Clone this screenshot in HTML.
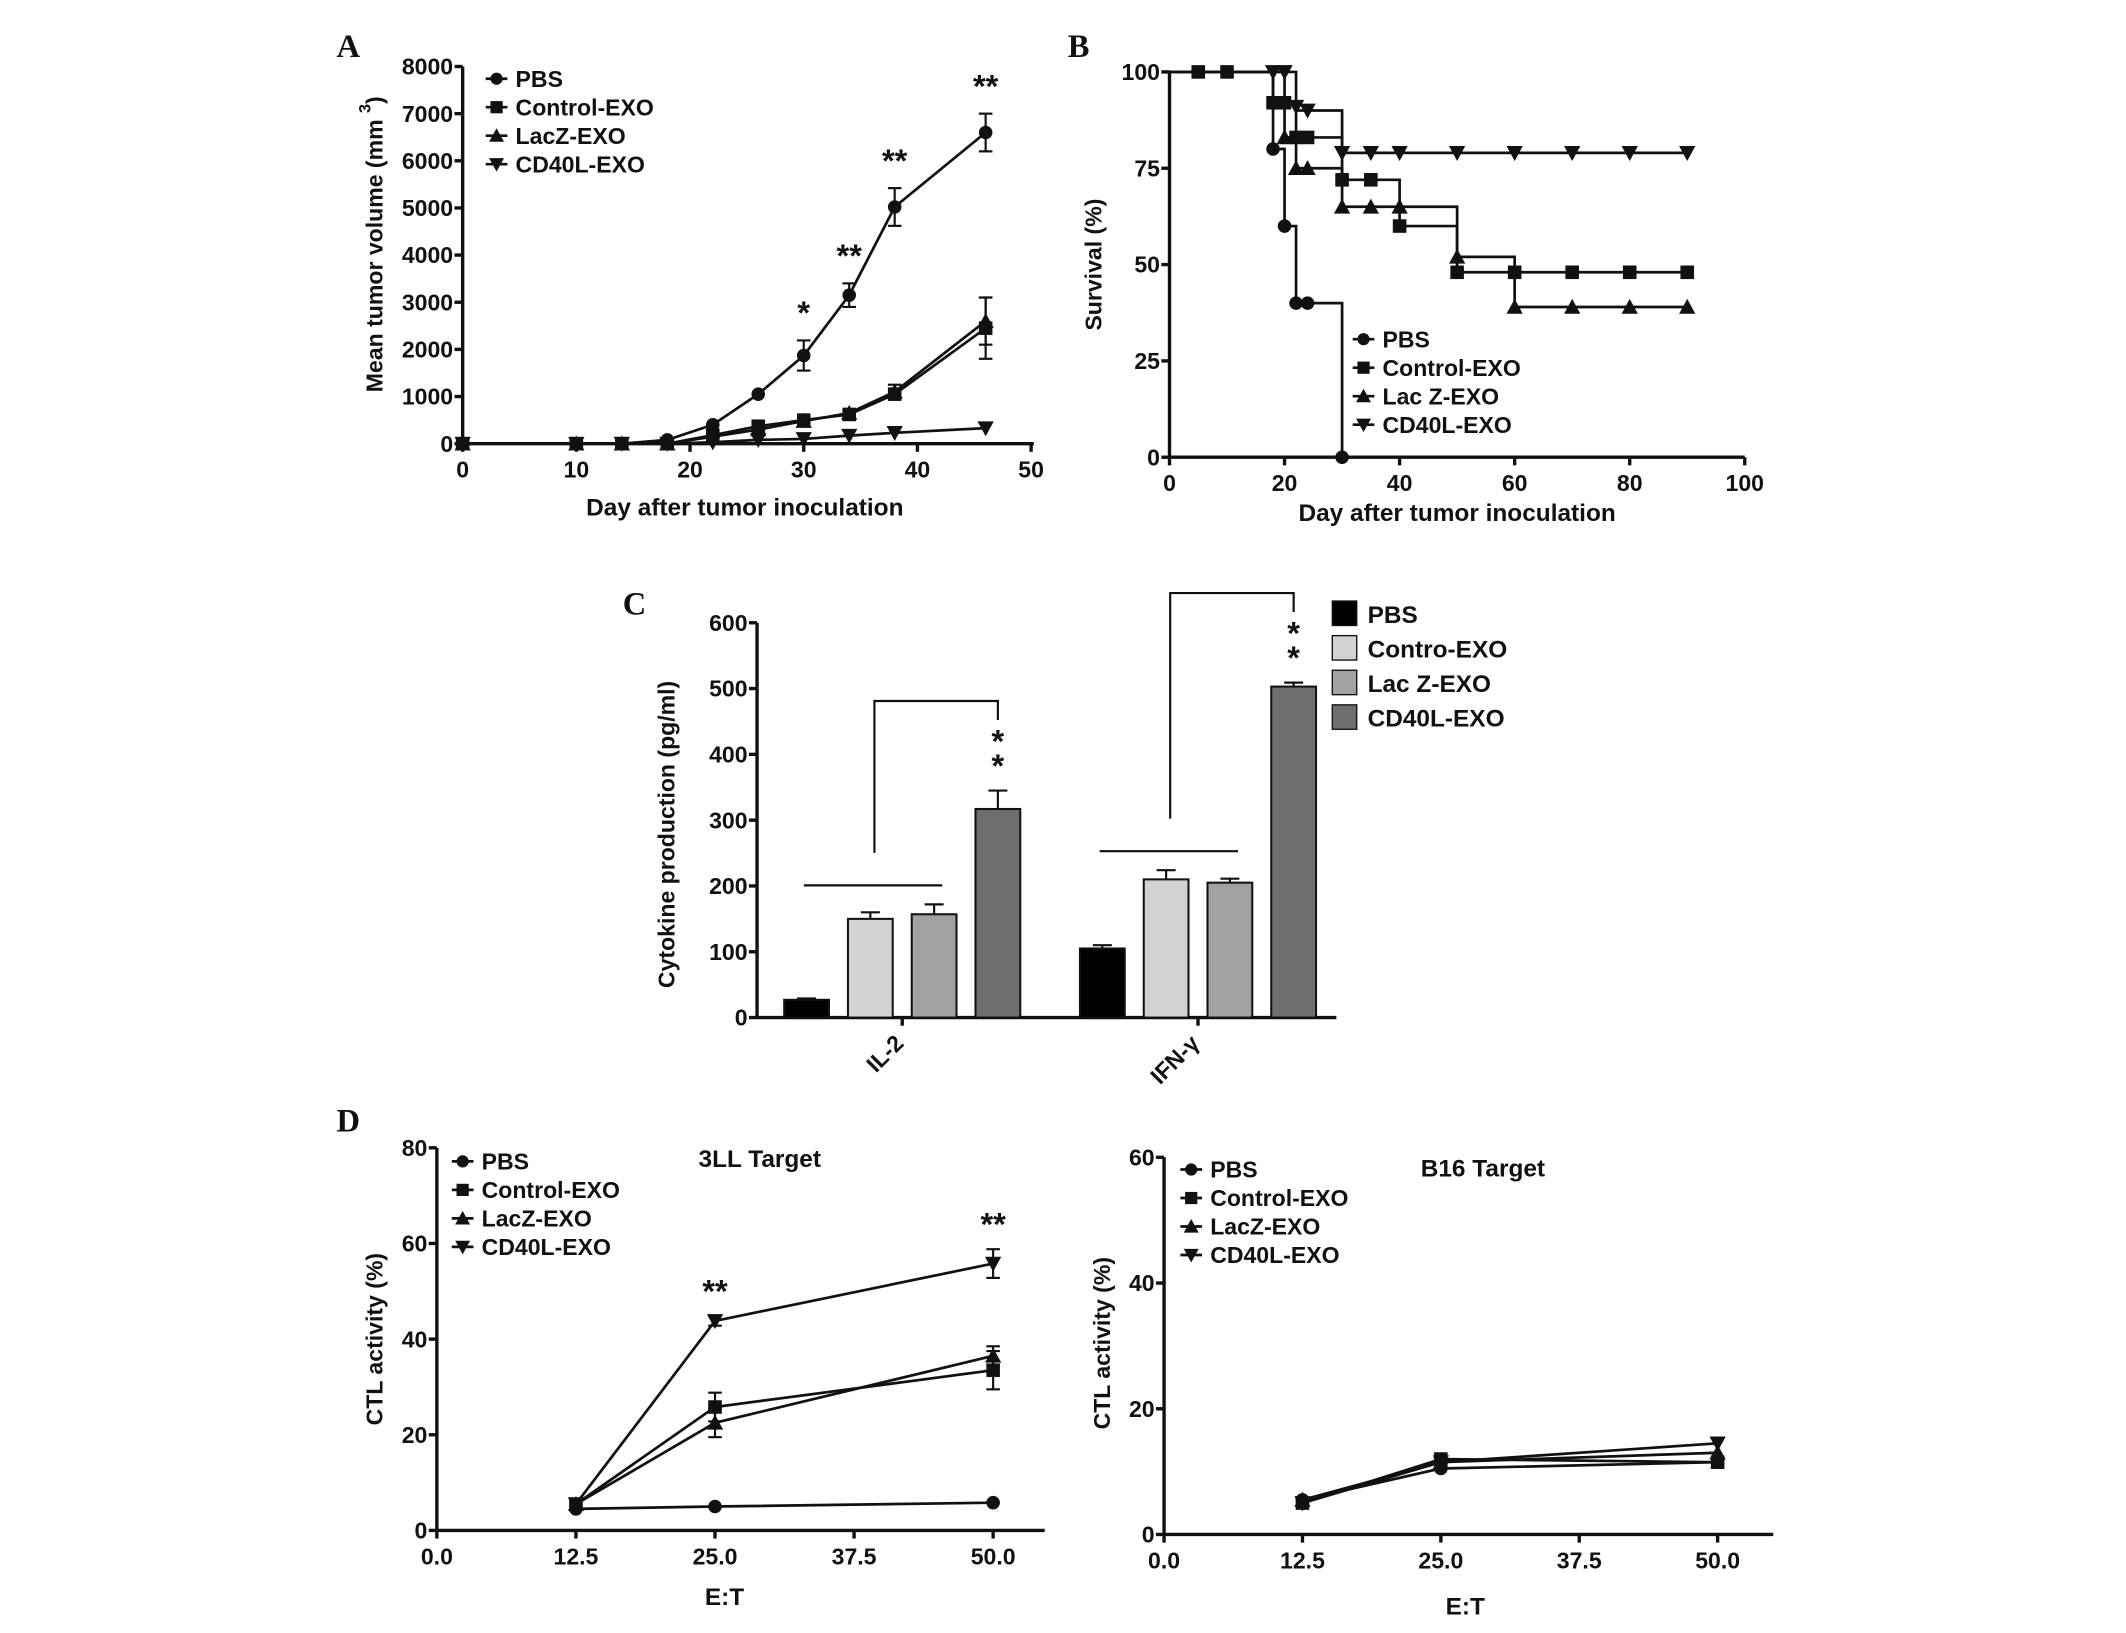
<!DOCTYPE html>
<html><head><meta charset="utf-8"><style>
html,body{margin:0;padding:0;background:#fff}
svg{display:block}
text{font-family:"Liberation Sans",Arial,sans-serif;font-weight:bold;fill:#111}
.pl{font-family:"Liberation Serif",serif;font-size:24px}
</style></head><body>
<svg id="fig" width="2126" height="1633" viewBox="0 0 1567 1203.6" xmlns="http://www.w3.org/2000/svg">
<text class="pl" x="248" y="42">A</text>
<text class="pl" x="787" y="42">B</text>
<text class="pl" x="459" y="453">C</text>
<text class="pl" x="248" y="834">D</text>
<g id="g"></g>
</svg>
<script>
// ---- Panel A data ----
const aDays=[0,10,14,18,22,26,30,34,38,46];
const aPBS=[0,0,0,80,400,1050,1870,3150,5020,6600];
const aPBSerr=[0,0,0,0,0,0,320,250,400,400];
const aCtrl=[0,0,0,0,180,370,500,620,1050,2450];
const aCtrlErr=[0,0,0,0,0,0,0,0,0,650];
const aLacZ=[0,0,0,0,150,300,480,650,1100,2600];
const aLacZErr=[0,0,0,0,0,0,0,0,150,500];
const aCD40=[0,0,0,0,30,80,100,170,230,330];
const aXTicks=[0,10,20,30,40,50];
const aYTicks=[0,1000,2000,3000,4000,5000,6000,7000,8000];
const aStars=[[30,"*"],[34,"**"],[38,"**"],[46,"**"]];
// ---- Panel B data (Kaplan-Meier) ----
const bPBSsteps=[[0,100],[18,80],[20,60],[22,40],[30,0]];
const bPBSmarks=[[18,80],[20,60],[22,40],[24,40],[30,0]];
const bCtrlSteps=[[0,100],[18,92],[22,83],[30,72],[40,60],[50,48],[90,48]];
const bCtrlMarks=[[5,100],[10,100],[18,92],[20,92],[22,83],[24,83],[30,72],[35,72],[40,60],[50,48],[60,48],[70,48],[80,48],[90,48]];
const bLacSteps=[[0,100],[20,83],[22,75],[30,65],[50,52],[60,39],[90,39]];
const bLacMarks=[[20,83],[22,75],[24,75],[30,65],[35,65],[40,65],[50,52],[60,39],[70,39],[80,39],[90,39]];
const bCDSteps=[[0,100],[22,90],[30,79],[90,79]];
const bCDMarks=[[18,100],[20,100],[22,91],[24,90],[30,79],[35,79],[40,79],[50,79],[60,79],[70,79],[80,79],[90,79]];
const bXTicks=[0,20,40,60,80,100];
const bYTicks=[0,25,50,75,100];
// ---- Panel C data ----
const cCats=["IL-2","IFN-γ"];
const cGroups=["PBS","Contro-EXO","Lac Z-EXO","CD40L-EXO"];
const cVals=[[27,150,157,317],[105,210,205,503]];
const cErrs=[[2,10,15,28],[5,14,6,6]];
const cYTicks=[0,100,200,300,400,500,600];
// ---- Panel D data ----
const dET=[12.5,25,50];
const dXTicks=[0,12.5,25,37.5,50];
const dL_PBS=[4.5,5,5.8], dL_PBSe=[0,0,0];
const dL_Ctrl=[5.5,25.8,33.5], dL_CtrlE=[0,3,4];
const dL_Lac=[5.5,22.5,36.5], dL_LacE=[0,3,2];
const dL_CD=[5.5,43.8,55.8], dL_CDE=[0,1,3];
const dLYTicks=[0,20,40,60,80];
const dR_PBS=[5.5,10.5,11.5];
const dR_Ctrl=[5,12,11.5];
const dR_Lac=[5.5,11.5,13];
const dR_CD=[5,11.5,14.5];
const dRYTicks=[0,20,40,60];

const NS="http://www.w3.org/2000/svg";
const G=document.getElementById('g');
function el(tag,attrs,parent,txt){const e=document.createElementNS(NS,tag);for(const k in attrs)e.setAttribute(k,attrs[k]);if(txt!==undefined)e.textContent=txt;(parent||G).appendChild(e);return e;}
function lin(d0,d1,r0,r1){return v=>r0+(v-d0)/(d1-d0)*(r1-r0);}
function marker(g,type,x,y,s){
  s=s||5;let e;
  if(type==='circle'){e=el('circle',{cx:x,cy:y,r:s,fill:'#111'},g);}
  else if(type==='square'){e=el('rect',{x:x-s,y:y-s,width:2*s,height:2*s,fill:'#111'},g);}
  else if(type==='up'){e=el('polygon',{points:`${x},${y-s-1} ${x-s-1},${y+s} ${x+s+1},${y+s}`,fill:'#111'},g);}
  else {e=el('polygon',{points:`${x},${y+s+1} ${x-s-1},${y-s} ${x+s+1},${y-s}`,fill:'#111'},g);}
  
  
}
function axes(g,o){
  el('line',{x1:o.ax,y1:o.y0,x2:o.ax,y2:o.y1,stroke:'#111','stroke-width':2.5},g);
  el('line',{x1:o.ax,y1:o.y0,x2:o.x1,y2:o.y0,stroke:'#111','stroke-width':2.5},g);
  if(o.xt)o.xt.forEach(v=>{const x=o.sx(v);el('line',{x1:x,y1:o.y0,x2:x,y2:o.y0+6,stroke:'#111','stroke-width':2.5},g);
    const t=el('text',{x:x,y:o.y0+25,'text-anchor':'middle','font-size':17},g,o.fx?o.fx(v):v);
    });
  o.yt.forEach(v=>{const y=o.sy(v);el('line',{x1:o.ax-6,y1:y,x2:o.ax,y2:y,stroke:'#111','stroke-width':2.5},g);
    const t=el('text',{x:o.ax-7,y:y+6,'text-anchor':'end','font-size':17},g,v);
    });
}
function series(g,xs,ys,errs,sx,sy,mk){
  const pts=xs.map((x,i)=>sx(x)+','+sy(ys[i])).join(' ');
  const p=el('polyline',{points:pts,fill:'none',stroke:'#111','stroke-width':2},g);
  
  xs.forEach((x,i)=>{
    if(errs&&errs[i]>0){const X=sx(x),a=sy(ys[i]+errs[i]),b=sy(ys[i]-errs[i]);
      el('line',{x1:X,y1:a,x2:X,y2:b,stroke:'#111','stroke-width':1.6},g);
      el('line',{x1:X-5,y1:a,x2:X+5,y2:a,stroke:'#111','stroke-width':1.6},g);
      el('line',{x1:X-5,y1:b,x2:X+5,y2:b,stroke:'#111','stroke-width':1.6},g);}
    marker(g,mk,sx(x),sy(ys[i]));
  });
}
function legend(g,x,y0,dy,labels,mks,size){
  labels.forEach((l,i)=>{const y=y0+i*dy;
    el('line',{x1:x-8,y1:y,x2:x+8,y2:y,stroke:'#111','stroke-width':2},g);
    marker(g,mks[i],x,y,4.5);
    const t=el('text',{x:x+14,y:y+6,'font-size':size||17},g,l);
    });
}
function ylabel(g,x,y,txt,size){const t=el('text',{x:x,y:y,'text-anchor':'middle','font-size':size||17,transform:`rotate(-90 ${x} ${y})`},g,txt);
  return t;}
function xlabel(g,x,y,txt){const t=el('text',{x:x,y:y,'text-anchor':'middle','font-size':18},g,txt);
  }

// ---------- Panel A ----------
(function(){
const g=el('g',{});
const sx=lin(0,50,341,760), sy=lin(0,8000,327,49);
axes(g,{ax:341,x1:762,y0:327,y1:49,xt:aXTicks,yt:aYTicks,sx,sy});
series(g,aDays,aCtrl,aCtrlErr,sx,sy,'square');
series(g,aDays,aLacZ,aLacZErr,sx,sy,'up');
series(g,aDays,aCD40,null,sx,sy,'down');
series(g,aDays,aPBS,aPBSerr,sx,sy,'circle');
aStars.forEach(([d,s])=>{const i=aDays.indexOf(d);const t=el('text',{x:sx(d),y:sy(aPBS[i]+aPBSerr[i])-12,'text-anchor':'middle','font-size':24},g,s);
 });
legend(g,366,58,21,["PBS","Control-EXO","LacZ-EXO","CD40L-EXO"],['circle','square','up','down']);
const yl=ylabel(g,282,180,"Mean tumor volume (mm ");
const sup=el('tspan',{dy:-9,'font-size':12},yl,"3");
const cl=el('tspan',{dy:9,'font-size':17},yl,")");
xlabel(g,549,380,"Day after tumor inoculation");
})();

// ---------- Panel B ----------
(function(){
const g=el('g',{});
const sx=lin(0,100,862,1286), sy=lin(0,100,337,53);
axes(g,{ax:862,x1:1286,y0:337,y1:53,xt:bXTicks,yt:bYTicks,sx,sy});
function km(steps,marks,mk){
  let d='M'+sx(steps[0][0])+','+sy(steps[0][1]);
  for(let i=1;i<steps.length;i++){d+=' H'+sx(steps[i][0])+' V'+sy(steps[i][1]);}
  const p=el('path',{d:d,fill:'none',stroke:'#111','stroke-width':2},g);
  
  marks.forEach(([x,y])=>marker(g,mk,sx(x),sy(y)));
}
km(bCDSteps,bCDMarks,'down');
km(bCtrlSteps,bCtrlMarks,'square');
km(bLacSteps,bLacMarks,'up');
km(bPBSsteps,bPBSmarks,'circle');
legend(g,1005,250,21,["PBS","Control-EXO","Lac Z-EXO","CD40L-EXO"],['circle','square','up','down']);
ylabel(g,812,195,"Survival (%)");
xlabel(g,1074,384,"Day after tumor inoculation");
})();

// ---------- Panel C ----------
(function(){
const g=el('g',{});
const sy=lin(0,600,750,459);
axes(g,{ax:558,x1:985,y0:750,y1:459,xt:null,yt:cYTicks,sx:null,sy});
const cols=['#000','#d2d2d2','#a2a2a2','#6e6e6e'];
const groupStart=[578,796], bw=33, step=47;
cCats.forEach((c,ci)=>{
  cVals[ci].forEach((v,bi)=>{
    const x=groupStart[ci]+bi*step, y=sy(v);
    const r=el('rect',{x:x,y:y,width:bw,height:750-y,fill:cols[bi],stroke:'#111','stroke-width':1.5},g);
    
    const cx=x+bw/2, e=sy(v+cErrs[ci][bi]);
    el('line',{x1:cx,y1:y,x2:cx,y2:e,stroke:'#111','stroke-width':1.6},g);
    el('line',{x1:cx-7,y1:e,x2:cx+7,y2:e,stroke:'#111','stroke-width':1.6},g);
  });
  const mid=groupStart[ci]+1.5*step+bw/2;
  el('line',{x1:mid,y1:750,x2:mid,y2:756,stroke:'#111','stroke-width':2.5},g);
  const lx=mid+2, ly=770;
  const t=el('text',{x:lx,y:ly,'text-anchor':'end','font-size':17,transform:`rotate(-45 ${lx} ${ly})`},g,c);
  
  const x1=groupStart[ci]+bw/2, x3=groupStart[ci]+2*step+bw/2+6;
  const top=groupStart[ci]+3*step+bw/2;
  const lowY=sy(Math.max(cVals[ci][1]+cErrs[ci][1],cVals[ci][2]+cErrs[ci][2]))-14;
  const hiY=sy(cVals[ci][3]+cErrs[ci][3])-66;
  const mx=(x1+x3)/2;
  el('line',{x1:x1-2,y1:lowY,x2:x3,y2:lowY,stroke:'#111','stroke-width':1.6},g);
  el('polyline',{points:`${mx},${lowY-24} ${mx},${hiY} ${top},${hiY} ${top},${hiY+14}`,fill:'none',stroke:'#111','stroke-width':1.6},g);
  el('text',{x:top,y:hiY+38,'text-anchor':'middle','font-size':24},g,"*");
  el('text',{x:top,y:hiY+56,'text-anchor':'middle','font-size':24},g,"*");
});
cGroups.forEach((n,i)=>{
  const y=443+i*25.5;
  const r=el('rect',{x:982,y:y,width:18,height:18,fill:cols[i],stroke:'#111','stroke-width':1},g);
  
  const t=el('text',{x:1008,y:y+16,'font-size':18},g,n);
  
});
ylabel(g,497,615,"Cytokine production (pg/ml)");
})();

// ---------- Panel D left ----------
(function(){
const g=el('g',{});
const sx=lin(0,50,322,732), sy=lin(0,80,1128,846);
axes(g,{ax:322,x1:770,y0:1128,y1:846,xt:dXTicks,yt:dLYTicks,sx,sy,fx:v=>v.toFixed(1)});
series(g,dET,dL_PBS,dL_PBSe,sx,sy,'circle');
series(g,dET,dL_Ctrl,dL_CtrlE,sx,sy,'square');
series(g,dET,dL_Lac,dL_LacE,sx,sy,'up');
series(g,dET,dL_CD,dL_CDE,sx,sy,'down');
[25,50].forEach(d=>{const i=dET.indexOf(d);el('text',{x:sx(d),y:sy(dL_CD[i]+dL_CDE[i])-10,'text-anchor':'middle','font-size':24},g,"**");});
legend(g,341,856,21,["PBS","Control-EXO","LacZ-EXO","CD40L-EXO"],['circle','square','up','down']);
const t=el('text',{x:560,y:860,'text-anchor':'middle','font-size':18},g,"3LL Target");
ylabel(g,282,987,"CTL activity (%)");
xlabel(g,534,1183,"E:T");
})();

// ---------- Panel D right ----------
(function(){
const g=el('g',{});
const sx=lin(0,50,858,1266), sy=lin(0,60,1131,853);
axes(g,{ax:858,x1:1307,y0:1131,y1:853,xt:dXTicks,yt:dRYTicks,sx,sy,fx:v=>v.toFixed(1)});
series(g,dET,dR_PBS,null,sx,sy,'circle');
series(g,dET,dR_Ctrl,null,sx,sy,'square');
series(g,dET,dR_Lac,null,sx,sy,'up');
series(g,dET,dR_CD,null,sx,sy,'down');
legend(g,878,862,21,["PBS","Control-EXO","LacZ-EXO","CD40L-EXO"],['circle','square','up','down']);
const t=el('text',{x:1093,y:867,'text-anchor':'middle','font-size':18},g,"B16 Target");
ylabel(g,818,990,"CTL activity (%)");
xlabel(g,1080,1190,"E:T");
})();
</script>
</body></html>
